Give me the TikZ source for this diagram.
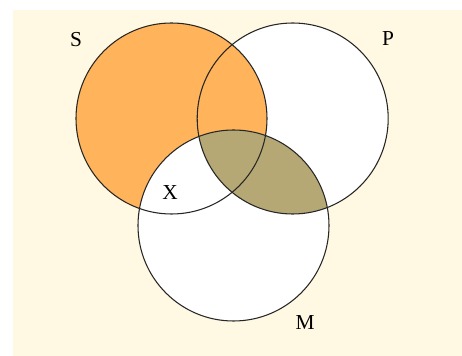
\documentclass[tikz,border=0pt]{standalone}
\usepackage{fontspec}
\setmainfont{Liberation Serif}
\usepackage{xcolor}
\usetikzlibrary{positioning}
\definecolor{bgcream}{HTML}{FFF8E2}
\definecolor{setorange}{HTML}{FFB35A}
\definecolor{setolive}{HTML}{B5A874}
\newcommand{\rad}{95.5}
\begin{document}
\begin{tikzpicture}[x=0.75pt,y=-0.75pt,
  ring/.style={draw=black!85,line width=0.8pt},
  setlabel/.style={font=\fontsize{16}{16}\selectfont,inner sep=0pt}]
  \useasboundingbox (0,0) rectangle (462,356);
  \fill[bgcream] (13,10) rectangle (462,356);
  \coordinate (cS) at (171.5,118.5);
  \coordinate (cP) at (292.7,118.5);
  \coordinate (cM) at (233.5,225.5);
  % fills
  \fill[white] (cP) circle (\rad) (cM) circle (\rad);
  \fill[setorange] (cS) circle (\rad);
  \begin{scope}
    \clip (cM) circle (\rad);
    \fill[white] (cS) circle (\rad);
    \fill[setolive] (cP) circle (\rad);
  \end{scope}
  % outlines
  \draw[ring] (cS) circle (\rad);
  \draw[ring] (cP) circle (\rad);
  \draw[ring] (cM) circle (\rad);
  % labels
  \node[setlabel] (lS) at (76,40) {S};
  \node[setlabel] (lP) at (388,39) {P};
  \node[setlabel] (lX) at (170,193) {X};
  \node[setlabel] (lM) at (305,323) {M};
\end{tikzpicture}
\end{document}
